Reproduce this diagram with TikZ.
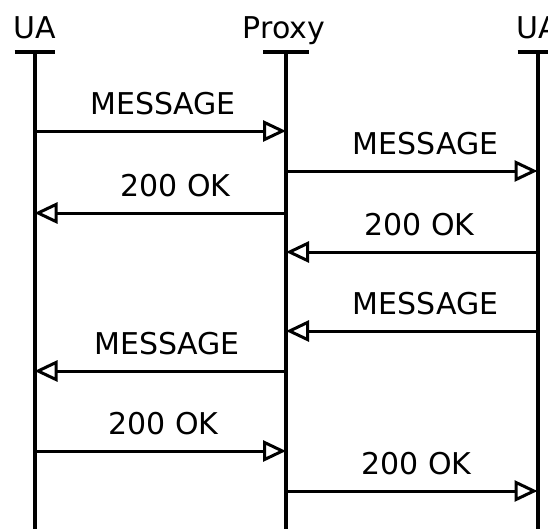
\documentclass[tikz,border=0pt]{standalone}
\usepackage{fontspec}
\setmainfont{DejaVu Sans}
\usetikzlibrary{arrows.meta}
\begin{document}
\begin{tikzpicture}[x=1pt,y=-1pt,
  lifeline/.style={line width=4pt},
  headbar/.style={line width=4pt},
  msg/.style={line width=3pt,-{Triangle[length=23pt,width=21pt,fill=white]}},
  party/.style={anchor=base,inner sep=0pt,font=\fontsize{30}{36}\selectfont},
  msglabel/.style={anchor=base,inner sep=0pt,font=\fontsize{30}{36}\selectfont}]
\useasboundingbox (0,0) rectangle (548,528);
\clip (0,0) rectangle (548,528);
\fill[white] (0,0) rectangle (548,528);

% participants
\node[party] (pa) at (34.5,38) {UA};
\node[party] (pb) at (284,38) {Proxy};
\node[party] (pc) at (537.5,38) {UA};

% lifeline tops and bottoms
\coordinate (la) at (34.5,52);
\coordinate (lb) at (286,52);
\coordinate (lc) at (537.5,52);
\coordinate (ea) at (34.5,530);
\coordinate (eb) at (286,530);
\coordinate (ec) at (537.5,530);

\draw[headbar] ([xshift=-20pt]la) -- ([xshift=20pt]la);
\draw[headbar] ([xshift=-23pt]lb) -- ([xshift=23pt]lb);
\draw[headbar] ([xshift=-20pt]lc) -- ([xshift=20pt]lc);
\draw[lifeline] (la) -- (ea);
\draw[lifeline] (lb) -- (eb);
\draw[lifeline] (lc) -- (ec);

% messages: y / from / to / label x / text
\foreach \y/\s/\t/\lx/\txt [count=\i] in {
    131/a/b/163/MESSAGE,
    171/b/c/425.5/MESSAGE,
    213/b/a/175.5/200 OK,
    252/c/b/419.5/200 OK,
    331/c/b/425.5/MESSAGE,
    371/b/a/167/MESSAGE,
    451/a/b/163.5/200 OK,
    491/b/c/416.5/200 OK} {
  \coordinate (m\i s) at (l\s |- 0,\y);
  \coordinate (m\i t) at (l\t |- 0,\y);
  \draw[msg] (m\i s) -- (m\i t);
  \node[msglabel] (lab\i) at (\lx,\y-17) {\txt};
}
\end{tikzpicture}
\end{document}
